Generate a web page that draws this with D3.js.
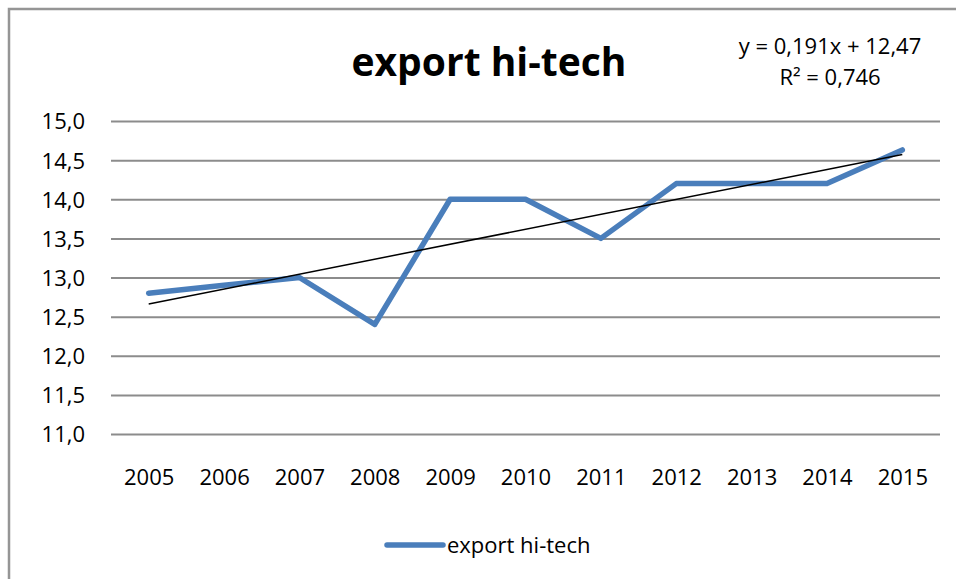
<!DOCTYPE html>
<html>
<head>
<meta charset="utf-8">
<style>
  body { margin: 0; background: #fff; }
  text { font-family: "Open Sans", sans-serif; fill: #000; }
  .grid .tick line { stroke: #8c8c8c; stroke-width: 2px; }
  .grid path.domain { display: none; }
  .xaxis path.domain, .xaxis .tick line { display: none; }
</style>
</head>
<body>
<svg id="chart" width="956" height="579"></svg>
<script src="https://cdnjs.cloudflare.com/ajax/libs/d3/7.8.5/d3.min.js"></script>
<script>
// values
var years = ["2005", "2006", "2007", "2008", "2009", "2010", "2011", "2012", "2013", "2014", "2015"];
var exportHiTech = [12.8, 12.9, 13.0, 12.4, 14.0, 14.0, 13.5, 14.2, 14.2, 14.2, 14.63];
var yTicks = [11.0, 11.5, 12.0, 12.5, 13.0, 13.5, 14.0, 14.5, 15.0];
// linear trend as printed on the chart: y = a*x + b, x = 1..11
var trendCoef = [0.191, 12.47];
var trendLabel = ["y = 0,191x + 12,47", "R² = 0,746"];
var seriesName = "export hi-tech";

var svg = d3.select("#chart");
var plotL = 111, plotR = 940, plotT = 121, plotB = 434;
var blue = "#4a7ebb";

svg.append("rect").attr("width", 956).attr("height", 579).attr("fill", "#fff");

// chart frame (right and bottom sides are cut off in the picture)
svg.append("path")
  .attr("d", "M9,579V9H956")
  .attr("fill", "none")
  .attr("stroke", "#959595")
  .attr("stroke-width", 2.5);

var x = d3.scalePoint().domain(years).range([plotL, plotR]).padding(0.5);
var y = d3.scaleLinear().domain([11, 15]).range([plotB, plotT]);
var fmt = function(d) { return d3.format(".1f")(d).replace(".", ","); };

// gridlines + y labels
var yAxis = d3.axisLeft(y)
  .tickValues(yTicks)
  .tickFormat(fmt)
  .tickSize(-(plotR - plotL))
  .tickPadding(26);
svg.append("g").attr("class", "grid")
  .attr("transform", "translate(" + plotL + ",0)")
  .call(yAxis)
  .selectAll("text")
    .style("font-size", "22px")
    .attr("dy", "0.36em");

// x labels
var xAxis = d3.axisBottom(x).tickSize(0).tickPadding(0);
svg.append("g").attr("class", "xaxis")
  .attr("transform", "translate(0," + plotB + ")")
  .call(xAxis)
  .selectAll("text")
    .style("font-size", "22px")
    .attr("y", 51)
    .attr("dy", 0);

// series line
var line = d3.line()
  .x(function(d, i) { return x(years[i]); })
  .y(function(d) { return y(d); });

svg.append("path")
  .datum(exportHiTech)
  .attr("d", line)
  .attr("fill", "none")
  .attr("stroke", blue)
  .attr("stroke-width", 5.5)
  .attr("stroke-linecap", "round")
  .attr("stroke-linejoin", "round");

// trendline
var trendPts = [1, years.length].map(function(n) {
  return { yr: years[n - 1], v: trendCoef[0] * n + trendCoef[1] };
});
svg.append("line")
  .attr("x1", x(trendPts[0].yr)).attr("y1", y(trendPts[0].v))
  .attr("x2", x(trendPts[1].yr)).attr("y2", y(trendPts[1].v))
  .attr("stroke", "#000")
  .attr("stroke-width", 1.5);

// title
svg.append("text")
  .attr("x", 489).attr("y", 76)
  .attr("text-anchor", "middle")
  .style("font-size", "39px")
  .style("font-weight", "bold")
  .text(seriesName);

// trend equation
svg.selectAll(".eq").data(trendLabel).enter()
  .append("text")
  .attr("class", "eq")
  .attr("x", 830)
  .attr("y", function(d, i) { return 54 + i * 31; })
  .attr("text-anchor", "middle")
  .style("font-size", "22px")
  .text(function(d) { return d; });

// legend
var lg = svg.append("g").attr("transform", "translate(387,545)");
lg.append("line")
  .attr("x1", 0).attr("x2", 56)
  .attr("stroke", blue)
  .attr("stroke-width", 5.5)
  .attr("stroke-linecap", "round");
lg.append("text")
  .attr("x", 60).attr("y", 8)
  .style("font-size", "22px")
  .text(seriesName);
</script>
</body>
</html>
